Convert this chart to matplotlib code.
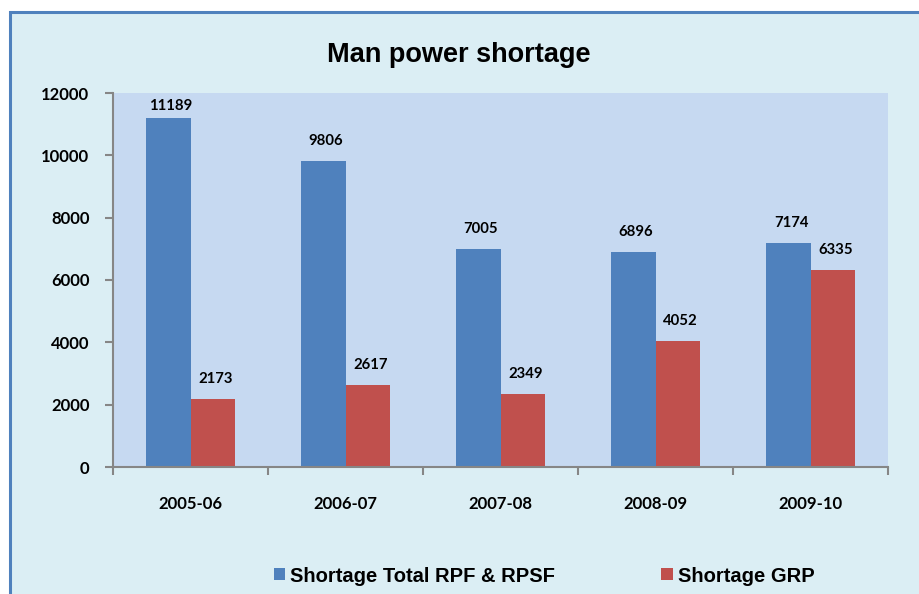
import matplotlib
matplotlib.use("Agg")
import matplotlib.pyplot as plt
import matplotlib.patches as mpatches
import numpy as np

categories = ["2005-06", "2006-07", "2007-08", "2008-09", "2009-10"]
rpf = [11189, 9806, 7005, 6896, 7174]
grp = [2173, 2617, 2349, 4052, 6335]
series_names = ["Shortage Total RPF & RPSF", "Shortage GRP"]
yticks = [0, 2000, 4000, 6000, 8000, 10000, 12000]

W, H = 920, 594
fig = plt.figure(figsize=(W/100, H/100), dpi=100)
fig.patch.set_facecolor("white")

# outer chart frame
frame = mpatches.Rectangle((10/W, -0.1), 1.2, 1 - 12/H + 0.1, transform=fig.transFigure,
                           facecolor="#dbeef4", edgecolor="#4f81bd", linewidth=2.2, zorder=-10)
fig.patches.append(frame)

ax_h_px = 467 - 93
ax = fig.add_axes([113/W, 1 - 467/H, (888-113)/W, ax_h_px/H])
ax.set_zorder(5)
ax.set_facecolor("#c6d9f1")

x = np.arange(len(categories))
bw = 0.287
b1 = ax.bar(x - bw/2, rpf, bw, color="#4f81bd", label=series_names[0], zorder=2)
b2 = ax.bar(x + bw/2, grp, bw, color="#c0504d", label=series_names[1], zorder=2)

ymax = 12000
fam = ["Lato", "DejaVu Sans"]
lblfont = dict(family=fam, fontweight="bold", fontsize=10.7)
for bars, vals in ((b1, rpf), (b2, grp)):
    for r, v in zip(bars, vals):
        room_px = (ymax - v) / ymax * ax_h_px
        off_px = min(20, room_px - 13)
        ax.annotate(f"{v}", (r.get_x() + r.get_width()/2, v), xytext=(2, off_px * 0.72),
                    textcoords="offset points", ha="center", va="center", **lblfont)

ax.set_xlim(-0.5, len(categories) - 0.5)
ax.set_ylim(0, ymax)
ax.set_yticks(yticks)
ax.set_yticklabels([str(t) for t in yticks], fontdict=dict(family=fam, fontweight="bold", fontsize=12))
ax.set_xticks(x)
ax.set_xticklabels(categories, fontdict=dict(family=fam, fontweight="bold", fontsize=12))
ax.set_xticks(np.arange(len(categories) + 1) - 0.5, minor=True)
ax.tick_params(axis="x", which="major", length=0, pad=21)
ax.tick_params(axis="x", which="minor", length=6, color="#868686", width=1.5, direction="out")
ax.tick_params(axis="y", length=6, color="#868686", width=1.5, direction="out", pad=11)

for s in ["top", "right"]:
    ax.spines[s].set_visible(False)
for s in ["left", "bottom"]:
    ax.spines[s].set_color("#868686")
    ax.spines[s].set_linewidth(1.5)

fig.text(459/W, 1 - 55/H, "Man power shortage", ha="center", va="center",
         family=["Liberation Sans", "DejaVu Sans"], fontweight="bold", fontsize=19.5)

leg = fig.legend(handles=[b1, b2], labels=series_names, loc="center", bbox_to_anchor=(544/W, 1 - 576/H),
                 ncol=2, frameon=False, handlelength=0.55, handleheight=0.55, handletextpad=0.25,
                 columnspacing=5.3, prop=dict(family=["Liberation Sans", "DejaVu Sans"], weight="bold", size=14.5))

fig.savefig("out.png", dpi=100, facecolor="white")
